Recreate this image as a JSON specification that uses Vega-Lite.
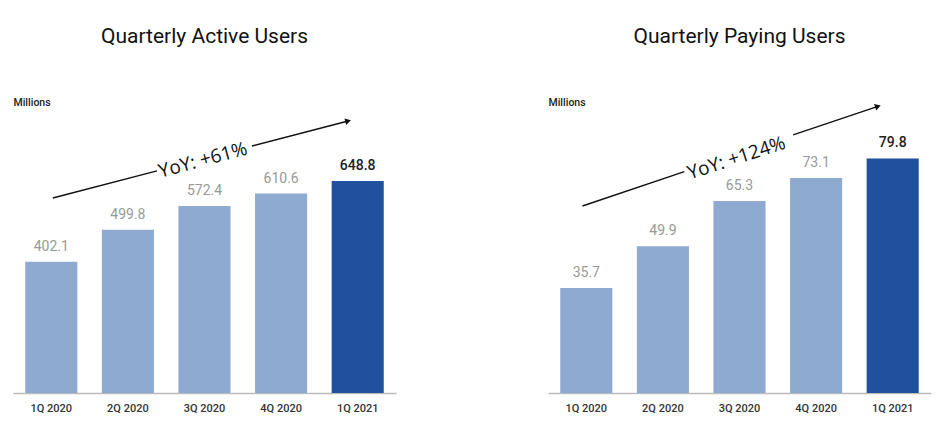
{
  "$schema": "https://vega.github.io/schema/vega-lite/v6.json",
  "background": "white",
  "padding": {"left": 13, "top": 26, "right": 5, "bottom": 5},
  "autosize": {"type": "pad"},
  "bounds": "flush",
  "spacing": 152,
  "config": {
    "view": {"stroke": null},
    "font": "Roboto",
    "title": {"fontSize": 21, "fontWeight": "normal", "color": "#111", "font": "Roboto", "anchor": "middle", "offset": 50},
    "axisX": {"title": null, "ticks": false, "labelAngle": 0, "labelFontSize": 11, "labelFontWeight": 500, "labelColor": "#333", "labelPadding": 9, "domainColor": "#bbbbbb", "domainWidth": 1.5, "grid": false},
    "axisY": {"labels": false, "ticks": false, "domain": false, "grid": false, "titleAngle": 0, "titleAlign": "left", "titleBaseline": "middle", "titleX": 0, "titleY": 3, "titleFontSize": 10.5, "titleFontWeight": 500, "titleColor": "#222", "titleFont": "Roboto"}
  },
  "datasets": {
    "active": [
      {"q": "1Q 2020", "v": 402.1},
      {"q": "2Q 2020", "v": 499.8},
      {"q": "3Q 2020", "v": 572.4},
      {"q": "4Q 2020", "v": 610.6},
      {"q": "1Q 2021", "v": 648.8}
    ],
    "paying": [
      {"q": "1Q 2020", "v": 35.7},
      {"q": "2Q 2020", "v": 49.9},
      {"q": "3Q 2020", "v": 65.3},
      {"q": "4Q 2020", "v": 73.1},
      {"q": "1Q 2021", "v": 79.8}
    ],
    "segA": [
      {"x1": 0.52, "y1": 597, "x2": 1.88, "y2": 680},
      {"x1": 3.12, "y1": 756, "x2": 4.375, "y2": 832.6}
    ],
    "headA": [{"x": 4.375, "y": 832.6}],
    "yoyA": [{"x": 2.48, "y": 713, "t": "YoY: +61%"}],
    "segP": [
      {"x1": 0.45, "y1": 63.6, "x2": 1.78, "y2": 75.3},
      {"x1": 3.2, "y1": 87.8, "x2": 4.307, "y2": 97.5}
    ],
    "headP": [{"x": 4.307, "y": 97.5}],
    "yoyP": [{"x": 2.46, "y": 79.9, "t": "YoY: +124%"}]
  },
  "hconcat": [
    {
      "width": 383,
      "height": 294,
      "title": "Quarterly Active Users",
      "resolve": {"scale": {"x": "independent"}},
      "layer": [
        {
          "data": {"name": "active"},
          "encoding": {
            "x": {"field": "q", "type": "ordinal", "sort": null, "scale": {"paddingInner": 0.32, "paddingOuter": 0.16}},
            "y": {"field": "v", "type": "quantitative", "scale": {"domain": [0, 900], "nice": false}, "axis": {"title": "Millions"}}
          },
          "layer": [
            {
              "mark": {"type": "bar"},
              "encoding": {
                "color": {"condition": {"test": "datum.q === '1Q 2021'", "value": "#20509E"}, "value": "#8FAAD1"}
              }
            },
            {
              "transform": [{"filter": "datum.q !== '1Q 2021'"}],
              "mark": {"type": "text", "baseline": "bottom", "dy": -8, "fontSize": 14, "color": "#999999", "font": "Roboto"},
              "encoding": {"text": {"field": "v", "type": "quantitative", "format": ".1f"}}
            },
            {
              "transform": [{"filter": "datum.q === '1Q 2021'"}],
              "mark": {"type": "text", "baseline": "bottom", "dy": -8, "fontSize": 14, "fontWeight": 500, "color": "#222222", "font": "Roboto"},
              "encoding": {"text": {"field": "v", "type": "quantitative", "format": ".1f"}}
            }
          ]
        },
        {
          "layer": [
            {
              "data": {"name": "segA"},
              "mark": {"type": "rule", "color": "#111", "strokeWidth": 1.5},
              "encoding": {
                "x": {"field": "x1", "type": "quantitative", "scale": {"domain": [0, 5], "nice": false, "zero": true}, "axis": null},
                "x2": {"field": "x2"},
                "y": {"field": "y1", "type": "quantitative"},
                "y2": {"field": "y2"}
              }
            },
            {
              "data": {"name": "headA"},
              "mark": {"type": "point", "shape": "triangle-up", "filled": true, "color": "#111", "opacity": 1, "size": 45, "angle": 75},
              "encoding": {
                "x": {"field": "x", "type": "quantitative", "axis": null},
                "y": {"field": "y", "type": "quantitative"}
              }
            },
            {
              "data": {"name": "yoyA"},
              "mark": {"type": "text", "fontSize": 19, "angle": -15, "color": "#111", "font": "Open Sans", "align": "center", "baseline": "middle"},
              "encoding": {
                "x": {"field": "x", "type": "quantitative", "axis": null},
                "y": {"field": "y", "type": "quantitative"},
                "text": {"field": "t"}
              }
            }
          ]
        }
      ]
    },
    {
      "width": 383,
      "height": 294,
      "title": "Quarterly Paying Users",
      "resolve": {"scale": {"x": "independent"}},
      "layer": [
        {
          "data": {"name": "paying"},
          "encoding": {
            "x": {"field": "q", "type": "ordinal", "sort": null, "scale": {"paddingInner": 0.32, "paddingOuter": 0.16}},
            "y": {"field": "v", "type": "quantitative", "scale": {"domain": [0, 100], "nice": false}, "axis": {"title": "Millions"}}
          },
          "layer": [
            {
              "mark": {"type": "bar"},
              "encoding": {
                "color": {"condition": {"test": "datum.q === '1Q 2021'", "value": "#20509E"}, "value": "#8FAAD1"}
              }
            },
            {
              "transform": [{"filter": "datum.q !== '1Q 2021'"}],
              "mark": {"type": "text", "baseline": "bottom", "dy": -8, "fontSize": 14, "color": "#999999", "font": "Roboto"},
              "encoding": {"text": {"field": "v", "type": "quantitative", "format": ".1f"}}
            },
            {
              "transform": [{"filter": "datum.q === '1Q 2021'"}],
              "mark": {"type": "text", "baseline": "bottom", "dy": -8, "fontSize": 14, "fontWeight": 500, "color": "#222222", "font": "Roboto"},
              "encoding": {"text": {"field": "v", "type": "quantitative", "format": ".1f"}}
            }
          ]
        },
        {
          "layer": [
            {
              "data": {"name": "segP"},
              "mark": {"type": "rule", "color": "#111", "strokeWidth": 1.5},
              "encoding": {
                "x": {"field": "x1", "type": "quantitative", "scale": {"domain": [0, 5], "nice": false, "zero": true}, "axis": null},
                "x2": {"field": "x2"},
                "y": {"field": "y1", "type": "quantitative"},
                "y2": {"field": "y2"}
              }
            },
            {
              "data": {"name": "headP"},
              "mark": {"type": "point", "shape": "triangle-up", "filled": true, "color": "#111", "opacity": 1, "size": 45, "angle": 71},
              "encoding": {
                "x": {"field": "x", "type": "quantitative", "axis": null},
                "y": {"field": "y", "type": "quantitative"}
              }
            },
            {
              "data": {"name": "yoyP"},
              "mark": {"type": "text", "fontSize": 19, "angle": -18, "color": "#111", "font": "Open Sans", "align": "center", "baseline": "middle"},
              "encoding": {
                "x": {"field": "x", "type": "quantitative", "axis": null},
                "y": {"field": "y", "type": "quantitative"},
                "text": {"field": "t"}
              }
            }
          ]
        }
      ]
    }
  ]
}
